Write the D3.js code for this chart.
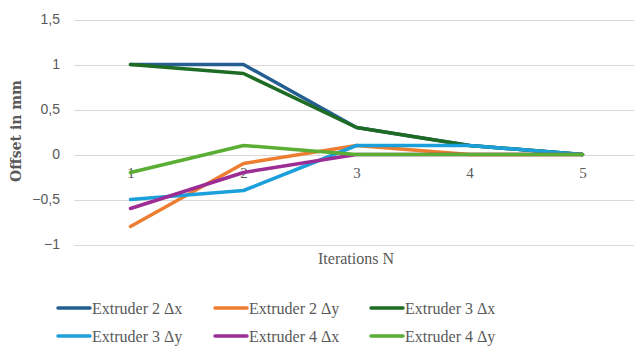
<!DOCTYPE html>
<html>
<head>
<meta charset="utf-8">
<script src="https://cdn.jsdelivr.net/npm/d3@7"></script>
<style>
  html, body { margin: 0; padding: 0; background: #fff; }
  svg { display: block; }
</style>
</head>
<body>
<svg id="chart" width="634" height="347"></svg>
<script>
// Iterations and per-extruder offsets (mm)
const iterations = ["1", "2", "3", "4", "5"];
const seriesNames = ["Extruder 2 Δx", "Extruder 2 Δy", "Extruder 3 Δx", "Extruder 3 Δy", "Extruder 4 Δx", "Extruder 4 Δy"];
const ext2dx = [1, 1, 0.3, 0.1, 0];
const ext2dy = [-0.8, -0.1, 0.1, 0, 0];
const ext3dx = [1, 0.9, 0.3, 0.1, 0];
const ext3dy = [-0.5, -0.4, 0.1, 0.1, 0];
const ext4dx = [-0.6, -0.2, 0, 0, 0];
const ext4dy = [-0.2, 0.1, 0, 0, 0];
const yTicks = [-1, -0.5, 0, 0.5, 1, 1.5];
const colors = ["#255E91", "#ED7D31", "#1E6B24", "#1BA0DB", "#9B2D94", "#5AAE34"];

const seriesValues = [ext2dx, ext2dy, ext3dx, ext3dy, ext4dx, ext4dy];

const svg = d3.select("#chart");

const x = d3.scalePoint().domain(iterations).range([130.5, 582.5]);
const y = d3.scaleLinear().domain([-1, 1.5]).range([244.5, 19.5]);

// Horizontal gridlines
svg.append("g")
  .selectAll("line")
  .data(yTicks)
  .join("line")
  .attr("x1", 74).attr("x2", 634)
  .attr("y1", d => Math.round(y(d)) + 0.5)
  .attr("y2", d => Math.round(y(d)) + 0.5)
  .attr("stroke", "#D9D9D9")
  .attr("stroke-width", 1);

// Y axis labels (decimal comma)
const yAxis = d3.axisLeft(y).tickValues(yTicks)
  .tickFormat(d => d3.format("")(d).replace(".", ","))
  .tickSize(0).tickPadding(0);
const gy = svg.append("g").attr("transform", "translate(60,0)").call(yAxis);
gy.select(".domain").remove();
gy.selectAll("text")
  .attr("font-family", "'Liberation Sans', Arial, sans-serif")
  .attr("font-size", 14)
  .attr("fill", "#595959");

// Category labels sit just below the zero line
const xAxis = d3.axisBottom(x).tickSize(0).tickPadding(0);
const gx = svg.append("g").attr("transform", `translate(0,${y(0) + 13})`).call(xAxis);
gx.select(".domain").remove();
gx.selectAll("text")
  .attr("font-family", "'Liberation Serif', 'Times New Roman', serif")
  .attr("font-size", 15)
  .attr("fill", "#595959");

// Series lines
const line = d3.line()
  .x((d, i) => x(iterations[i]))
  .y(d => y(d));

svg.append("g")
  .selectAll("path")
  .data(seriesValues)
  .join("path")
  .attr("d", d => line(d))
  .attr("fill", "none")
  .attr("stroke", (d, i) => colors[i])
  .attr("stroke-width", 3.5)
  .attr("stroke-linejoin", "round")
  .attr("stroke-linecap", "round");

// Axis titles
svg.append("text")
  .attr("x", 356).attr("y", 264)
  .attr("text-anchor", "middle")
  .attr("font-family", "'Liberation Serif', 'Times New Roman', serif")
  .attr("font-size", 16)
  .attr("fill", "#595959")
  .text("Iterations N");

svg.append("text")
  .attr("transform", "translate(21,131) rotate(-90)")
  .attr("text-anchor", "middle")
  .attr("font-family", "'DejaVu Serif', serif")
  .attr("font-size", 14)
  .attr("font-weight", "bold")
  .attr("fill", "#595959")
  .text("Offset in mm");

// Legend: three columns, two rows
const legendCols = [58, 215, 371];
const legendRows = [308, 336];
const legend = svg.append("g")
  .selectAll("g")
  .data(seriesNames)
  .join("g")
  .attr("transform", (d, i) => `translate(${legendCols[i % 3]},${legendRows[Math.floor(i / 3)]})`);

legend.append("line")
  .attr("x1", 0).attr("x2", 32)
  .attr("y1", 0).attr("y2", 0)
  .attr("stroke", (d, i) => colors[i])
  .attr("stroke-width", 3.5)
  .attr("stroke-linecap", "round");

legend.append("text")
  .attr("x", 34).attr("y", 0)
  .attr("dy", "0.35em")
  .attr("font-family", "'Liberation Serif', 'Times New Roman', serif")
  .attr("font-size", 16)
  .attr("fill", "#595959")
  .text(d => d);
</script>
</body>
</html>
